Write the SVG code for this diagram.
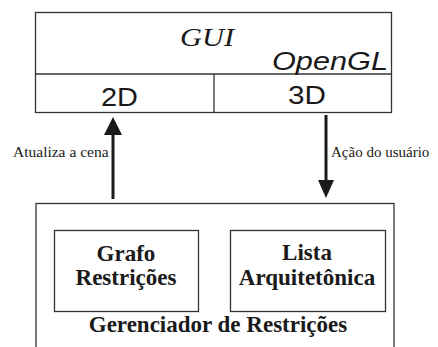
<svg xmlns="http://www.w3.org/2000/svg" width="438" height="347" viewBox="0 0 438 347">
<style>
.box{fill:none;stroke:#333;stroke-width:1.3}
.sans{fill:#1a1a1a;font-family:"Liberation Sans",Arial,sans-serif}
.serif{fill:#1a1a1a;font-family:"Liberation Serif","Times New Roman",serif}
.b{font-weight:bold;font-size:23px;text-anchor:middle}
.arr{stroke:#1a1a1a;stroke-width:3;fill:none}
.head{fill:#1a1a1a}
</style>
<rect width="438" height="347" fill="#fff"/>
<g id="gui">
<rect class="box" x="35.5" y="12.5" width="356" height="100"/>
<line class="box" x1="35.5" y1="74" x2="391.5" y2="74"/>
<line class="box" x1="214" y1="74" x2="214" y2="112.5"/>
<text class="serif" x="207" y="46" font-size="26" font-style="italic" text-anchor="middle" textLength="54" lengthAdjust="spacingAndGlyphs">GUI</text>
<text class="sans" x="272" y="70" font-size="25" font-style="italic" textLength="116" lengthAdjust="spacingAndGlyphs">OpenGL</text>
<text class="sans" x="101" y="106" font-size="26" textLength="37" lengthAdjust="spacingAndGlyphs">2D</text>
<text class="sans" x="288" y="104" font-size="26" textLength="38" lengthAdjust="spacingAndGlyphs">3D</text>
</g>
<g id="connectors">
<line class="arr" x1="113" y1="199" x2="113" y2="133"/>
<polygon class="head" points="113,117 104,135 122,135"/>
<line class="arr" x1="326" y1="115" x2="326" y2="182"/>
<polygon class="head" points="318,180 334,180 326,198"/>
<text class="serif" font-size="15.5" x="13" y="157">Atualiza a cena</text>
<text class="serif" font-size="15" x="331" y="157">Ação do usuário</text>
</g>
<g id="gerenciador">
<rect class="box" x="36" y="203.5" width="358" height="160"/>
<text class="serif b" x="218" y="332">Gerenciador de Restrições</text>
</g>
<g id="grafo">
<rect class="box" x="54.5" y="230.5" width="144" height="81"/>
<text class="serif b" x="126" y="261">Grafo</text>
<text class="serif b" x="126" y="285">Restrições</text>
</g>
<g id="lista">
<rect class="box" x="230.5" y="230.5" width="155" height="81"/>
<text class="serif b" x="307" y="260">Lista</text>
<text class="serif b" x="307" y="285">Arquitetônica</text>
</g>
</svg>
